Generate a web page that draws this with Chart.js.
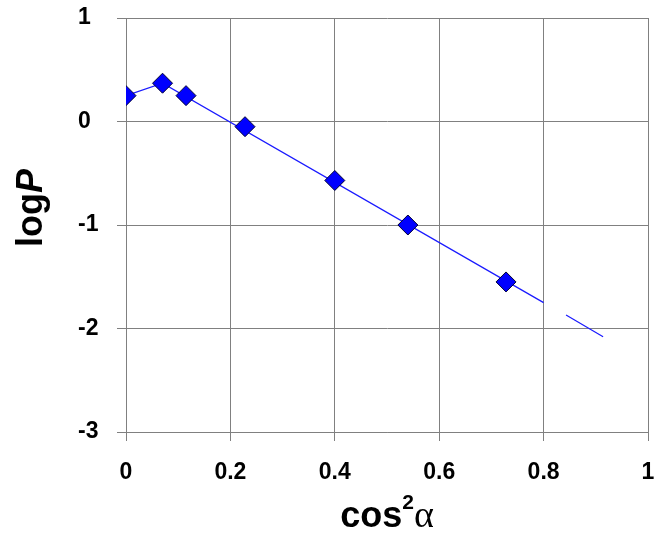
<!DOCTYPE html>
<html>
<head>
<meta charset="utf-8">
<script src="https://cdn.jsdelivr.net/npm/chart.js@4.4.1/dist/chart.umd.min.js"></script>
<style>
  html, body { margin: 0; padding: 0; background: #fff; }
  #wrap { width: 659px; height: 533px; position: relative; }
</style>
</head>
<body>
<div id="wrap"><canvas id="Chart"></canvas></div>
<script>
// measured points
const cos2a = [0, 0.07, 0.115, 0.228, 0.40, 0.54, 0.728];
const logP = [0.25, 0.37, 0.25, -0.05, -0.57, -1.00, -1.55];

// fitted line (with the gap near 0.82)
const fitX = [0, 0.07, 0.80, 0.82, 0.843, 0.914];
const fitY = [0.25, 0.37, -1.75, null, -1.87, -2.08];

const xTicks = [0, 0.2, 0.4, 0.6, 0.8, 1];
const yTicks = [-3, -2, -1, 0, 1];

const tickFont = { family: 'Liberation Sans', size: 23, weight: 'bold' };

// axis titles with mixed styles
const axisTitles = {
  id: 'axisTitles',
  afterDraw(chart) {
    const ctx = chart.ctx;
    const area = chart.chartArea;
    ctx.save();
    ctx.fillStyle = '#000';
    ctx.textBaseline = 'alphabetic';

    // x title: cos²α
    const cx = (area.left + area.right) / 2;
    const base = 527;
    ctx.font = 'bold 36px "Liberation Sans"';
    const wCos = ctx.measureText('cos').width;
    ctx.font = 'bold 21px "Liberation Sans"';
    const w2 = ctx.measureText('2').width;
    ctx.font = '38px "Liberation Serif"';
    const wA = ctx.measureText('α').width;
    let x = cx - (wCos + w2 + wA) / 2;
    ctx.textAlign = 'left';
    ctx.font = 'bold 36px "Liberation Sans"';
    ctx.fillText('cos', x, base);
    x += wCos;
    ctx.font = 'bold 21px "Liberation Sans"';
    ctx.fillText('2', x, base - 18);
    x += w2;
    ctx.font = '38px "Liberation Serif"';
    ctx.fillText('α', x, base);

    // y title: logP
    ctx.translate(42, 208);
    ctx.rotate(-Math.PI / 2);
    ctx.font = 'bold 36px "Liberation Sans"';
    const wLog = ctx.measureText('log').width;
    ctx.font = 'italic bold 36px "Liberation Sans"';
    const wP = ctx.measureText('P').width;
    let y = -(wLog + wP) / 2;
    ctx.font = 'bold 36px "Liberation Sans"';
    ctx.fillText('log', y, 0);
    ctx.font = 'italic bold 36px "Liberation Sans"';
    ctx.fillText('P', y + wLog, 0);
    ctx.restore();
  }
};

const ctx = document.getElementById('Chart');
new Chart(ctx, {
  type: 'scatter',
  data: {
    datasets: [
      {
        label: 'logP',
        data: cos2a.map((v, i) => ({ x: v, y: logP[i] })),
        pointStyle: 'rectRot',
        pointRadius: 10,
        pointHoverRadius: 10,
        pointBackgroundColor: '#0000ff',
        pointBorderColor: '#000033',
        pointBorderWidth: 1,
        showLine: false,
        order: 0
      },
      {
        label: 'fit',
        data: fitX.map((v, i) => ({ x: v, y: fitY[i] })),
        showLine: true,
        spanGaps: false,
        borderColor: '#1a1aff',
        borderWidth: 1.2,
        pointRadius: 0,
        order: 1
      }
    ]
  },
  options: {
    responsive: true,
    maintainAspectRatio: false,
    animation: false,
    events: [],
    layout: { padding: { top: 18, right: 11, left: 78, bottom: 0 } },
    plugins: {
      legend: { display: false },
      tooltip: { enabled: false }
    },
    scales: {
      x: {
        type: 'linear',
        min: 0,
        max: 1,
        afterBuildTicks: s => { s.ticks = xTicks.map(v => ({ value: v })); },
        afterFit: s => { s.height = 101; s.paddingLeft = 0; s.paddingRight = 0; },
        grid: { color: '#808080', lineWidth: 1, tickLength: 9 },
        border: { color: '#808080' },
        ticks: { font: tickFont, color: '#000', padding: 18, maxRotation: 0, callback: v => String(v) }
      },
      y: {
        type: 'linear',
        min: -3,
        max: 1,
        afterBuildTicks: s => { s.ticks = yTicks.map(v => ({ value: v })); },
        afterFit: s => { s.width = 48; s.paddingTop = 0; s.paddingBottom = 0; },
        grid: { color: '#808080', lineWidth: 1, tickLength: 9 },
        border: { color: '#808080' },
        ticks: { font: tickFont, color: '#000', padding: 10, crossAlign: 'far' }
      }
    }
  },
  plugins: [axisTitles]
});
</script>
</body>
</html>
